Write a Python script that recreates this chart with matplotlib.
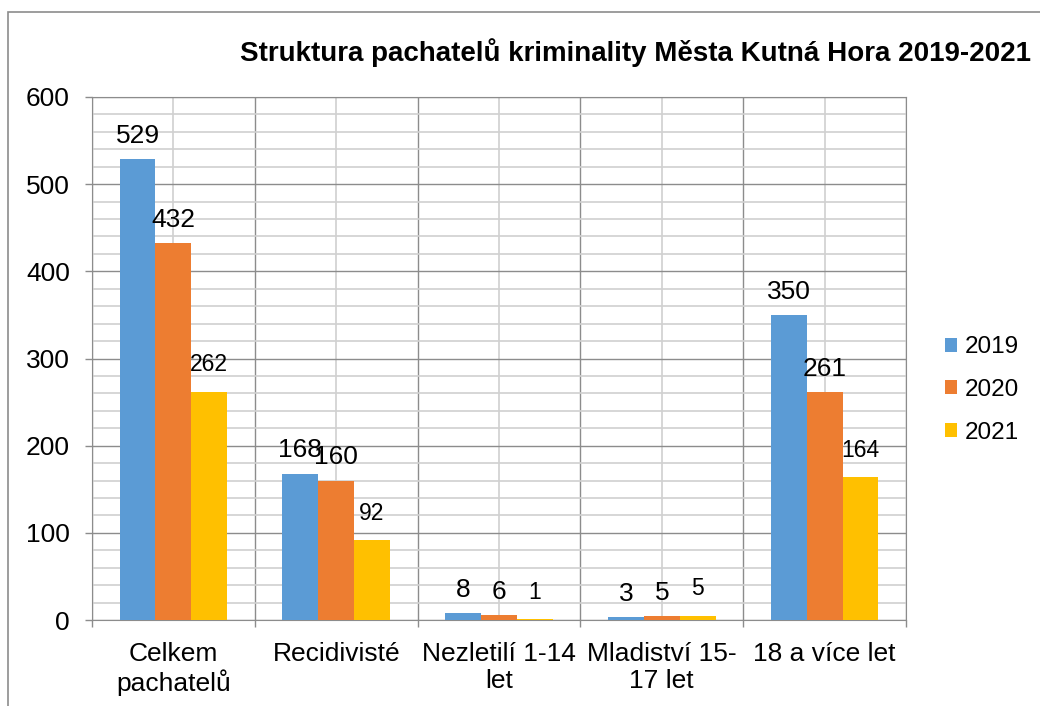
import numpy as np
import matplotlib.pyplot as plt
from matplotlib.patches import Rectangle

plt.rcParams['font.family'] = ['Liberation Sans', 'DejaVu Sans']

# data
categories = ["Celkem\npachatelů", "Recidivisté", "Nezletilí 1-14\nlet",
              "Mladiství 15-\n17 let", "18 a více let"]
years = ["2019", "2020", "2021"]
v2019 = [529, 168, 8, 3, 350]
v2020 = [432, 160, 6, 5, 261]
v2021 = [262, 92, 1, 5, 164]
colors = ["#5B9BD5", "#ED7D31", "#FFC000"]

fig = plt.figure(figsize=(10.4, 7.06), dpi=100)
ax = fig.add_axes([92 / 1040, 1 - 620 / 706, (906 - 92) / 1040, (620 - 97) / 706])

# outer frame of the chart object
fig.patches.append(Rectangle((8 / 1040, -0.1), 1.2, 1.1 - 12 / 706,
                             transform=fig.transFigure, fill=False,
                             edgecolor="#8c8c8c", linewidth=1.2))

x = np.arange(len(categories))
w = 0.22
series = [v2019, v2020, v2021]
for i, (vals, yr, c) in enumerate(zip(series, years, colors)):
    bars = ax.bar(x + (i - 1) * w, vals, w, color=c, label=yr, zorder=3)
    if i < 2:
        ax.bar_label(bars, padding=8, fontsize=19)
    else:
        ax.bar_label(bars, padding=11, fontsize=16.5)

ax.set_xlim(-0.5, len(categories) - 0.5)
ax.set_ylim(0, 600)

# gridlines like the Excel original
ax.set_yticks(np.arange(0, 601, 100))
ax.set_yticks(np.arange(0, 601, 20), minor=True)
ax.set_xticks(x)
ax.set_xticks(np.arange(-0.5, len(categories), 1), minor=True)
ax.grid(axis='y', which='minor', color="#d0d0d0", linewidth=1.2, zorder=0)
ax.grid(axis='y', which='major', color="#8c8c8c", linewidth=1.0, zorder=1)
for xv in x:
    ax.axvline(xv, color="#d0d0d0", linewidth=1.2, zorder=0)
for xv in np.arange(-0.5, len(categories), 1):
    ax.axvline(xv, color="#8c8c8c", linewidth=1.0, zorder=1)

ax.set_xticklabels(categories, fontsize=19, linespacing=1.15)
ax.tick_params(axis='x', which='major', length=0, pad=16)
ax.tick_params(axis='x', which='minor', length=5, color="#8c8c8c", width=1.0)
ax.tick_params(axis='y', which='major', length=5, color="#8c8c8c", width=1.0,
               labelsize=19, pad=11)
ax.tick_params(axis='y', which='minor', length=0)

for s in ax.spines.values():
    s.set_color("#8c8c8c")

fig.text(636 / 1040, 1 - 53 / 706,
         "Struktura pachatelů kriminality Města Kutná Hora 2019-2021",
         fontsize=20, fontweight='bold', ha='center', va='center')

fig.legend(loc='center left', bbox_to_anchor=(945 / 1040, 1 - 390 / 706),
           frameon=False, fontsize=17.5, handlelength=0.5, handleheight=0.5,
           handletextpad=0.3, labelspacing=0.85, borderpad=0, borderaxespad=0)

fig.savefig("out.png", dpi=100)
